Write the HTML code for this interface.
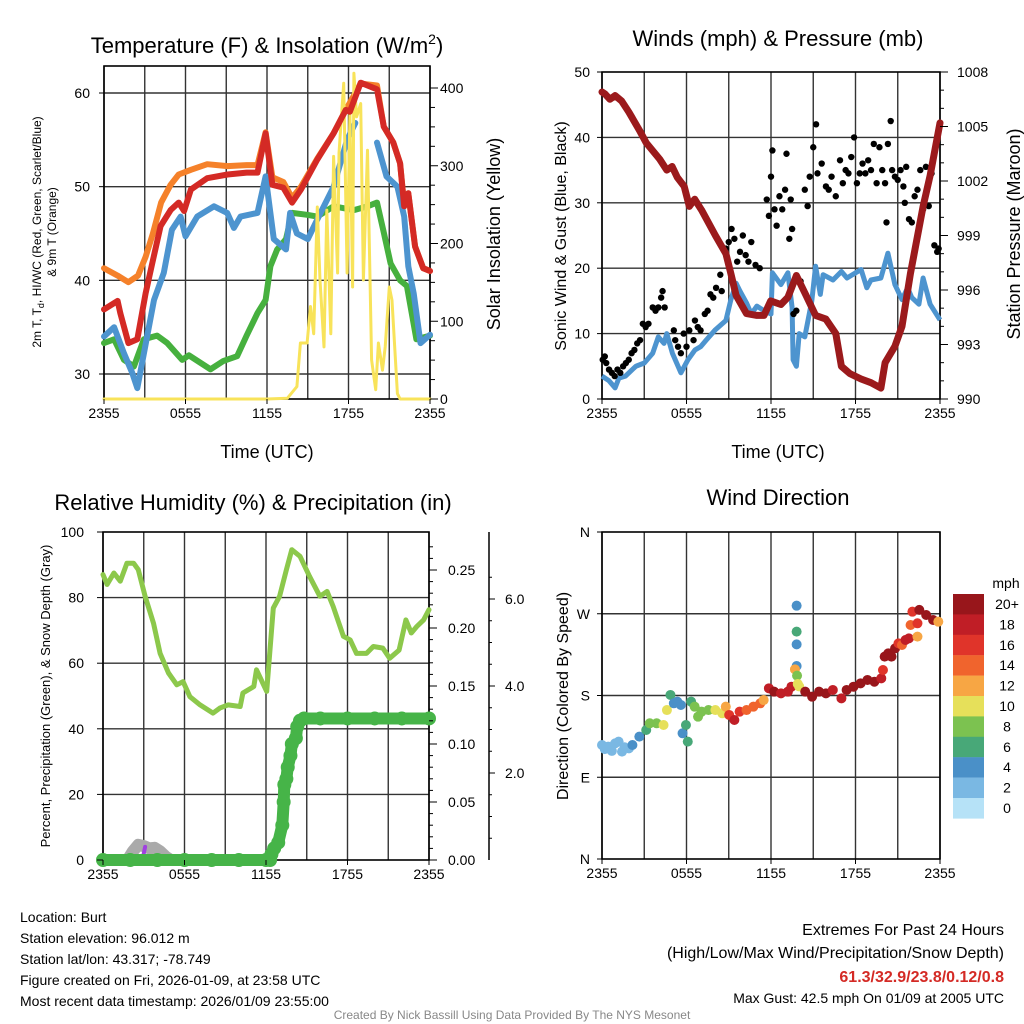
<!DOCTYPE html>
<html><head><meta charset="utf-8"><style>
html,body{margin:0;padding:0;background:#fff;}
svg{display:block;font-family:"Liberation Sans",sans-serif;}
</style></head><body>
<svg id="s" width="1024" height="1024" viewBox="0 0 1024 1024" xmlns="http://www.w3.org/2000/svg"></svg>
<script>
// ---------- DATA ----------
const xTickLabels = ["2355","0555","1155","1755","2355"];
// Panel 1 (hours, degF)
const redT_h = [0,1,1.2,1.8,2.45,3.06,3.55,4.17,4.9,5.5,5.9,6.4,7.6,9.1,10.5,11.3,11.9,12.4,13.2,13.85,14.5,15.7,16.9,17.8,18.1,18.9,20.1,20.6,21.3,21.8,22.1,22.4,22.9,23.5,24];
const redT_v = [36.9,37.8,36.5,33.3,33.7,38.6,41.8,45.8,47.5,48.3,47.4,49.7,50.9,51.3,51.5,51.5,55.7,50.2,49.9,48.3,49.7,52.9,55.7,58.2,58.0,61.1,60.4,56.4,54.7,52.5,47.9,49.3,43.6,41.3,41];
const orgT_h = [0,1,1.8,2.5,3.06,3.6,4.2,4.9,5.5,6.4,7.6,9.1,10.5,11.3,11.9,12.4,13.2,13.85,14.5,15.7,16.9,17.8,18.9,20.1,20.6,21.3,21.8,22.1,22.4,22.9,23.5,24];
const orgT_v = [41.3,40.5,39.8,40.5,42.5,45,48.3,50.2,51.3,51.8,52.4,52.2,52.3,52.3,55.8,51,50.5,48.8,50,53,55.7,58.2,61,60.8,56.4,54.7,52.5,48,49.3,43.6,41.3,41];
const bluT_h = [0,0.74,1.47,2.08,2.45,2.94,3.68,4.4,5.0,5.64,6.0,6.86,8.1,9.07,9.56,10.05,11.3,11.9,12.5,13.4,13.7,14.2,15.0,15.7,16.9,17.9,18.5,null,20.1,20.8,21.6,22.1,22.4,22.8,23.3,24];
const bluT_v = [34,35,32.2,30.1,28.5,32.2,37.9,40.8,45.4,46.8,44.7,46.8,47.9,47.2,45.6,46.8,47.2,51.1,44.4,43.3,47.2,45,44.4,46.5,50,55,56.8,null,54.7,51.1,50,46.8,41.5,38.6,33.3,34.2];
const grnT_h = [0,0.74,1.47,2.2,2.94,3.9,4.66,5.76,6.25,7.84,8.8,9.8,10.5,11.3,11.9,12.25,12.75,13.4,13.85,14.95,15.7,16.9,18.4,19.4,20.1,20.6,21.1,21.8,22.3,23.0,24];
const grnT_v = [33.3,33.7,31.5,30.8,33.7,34.1,33.3,31.5,32.0,30.5,31.4,31.9,34.1,36.5,37.9,41.5,43.3,44.4,47.2,47.0,46.8,47.9,47.5,47.9,48.3,45.1,41.8,40,39.4,33.7,34.1];
const sol_h = [0,12.0,13.5,14.2,14.46,14.95,15.2,15.44,15.7,15.9,16.2,16.4,16.7,16.9,17.2,17.3,17.65,17.9,18.1,18.3,18.4,18.6,18.9,19.1,19.4,19.7,20.0,20.2,20.5,20.7,21.0,21.2,21.6,21.8,24];
const sol_v = [0,0,1,16,72,72,119,84,247,153,67,243,84,312,162,316,406,162,367,144,419,363,380,153,320,50,12,72,37,67,144,127,7,0,0];
// Panel 2
const pres_h = [0,0.2,0.56,0.93,1.4,1.9,2.65,3.14,4.1,4.6,4.98,5.35,5.84,6.2,6.58,7.07,8.05,8.8,9.15,9.52,10.26,11.0,11.5,11.98,12.7,13.2,13.8,14.43,15.17,15.9,16.6,17.0,17.6,18.4,19.1,19.8,20.1,20.8,21.3,21.9,22.8,23.3,24];
const pres_v = [1006.9,1006.8,1006.5,1006.7,1006.4,1005.8,1004.8,1004.1,1003.2,1002.6,1002.8,1002.2,1001.7,1000.6,1001,1000.4,999,998,996.9,995.7,994.7,994.6,994.6,995.4,995.2,995.6,996.8,995.8,994.6,994.4,993.6,991.8,991.4,991.1,990.9,990.6,992,992.9,994,996.9,1000.6,1002.3,1005.2];
const wind_h = [0,0.5,0.93,1.2,1.67,2.4,3.0,3.6,4.0,4.4,4.6,5.0,5.6,6.1,6.6,7.0,7.4,8.05,8.8,9.15,9.52,9.8,10.26,10.6,11.0,11.5,12.0,12.1,12.7,13.2,13.5,13.57,13.8,14.0,14.4,14.9,15.17,15.5,15.7,16.4,17.0,17.4,18.4,18.8,19.1,19.8,20.3,20.8,21.3,21.7,22.0,22.5,22.8,23.3,24];
const wind_v = [3.5,2.8,1.7,3.2,3.5,5,5.5,7,9.5,8.5,10,7,4,6,7.5,8,9,10.6,12,15.2,17.7,16.5,14.7,13,14.2,13.5,13,19.3,17.5,19.3,14,6,5,10,9.5,15,20.3,16,19,18.2,19.5,18.5,19.8,17,18.2,18.5,22.3,17.5,15.2,17,15.5,14.5,18.5,14.5,12.1];
const gust_h = [0.05,0.2,0.3,0.5,0.7,0.9,1.1,1.3,1.5,1.7,1.9,2.1,2.3,2.5,2.7,2.9,3.1,3.3,3.6,3.8,4.0,4.2,4.3,4.45,5.1,5.2,5.4,5.6,5.8,6.0,6.2,6.5,6.6,6.8,7.0,7.3,7.5,7.7,7.9,8.1,8.4,8.5,8.8,9.0,9.2,9.4,9.6,9.8,10.0,10.2,10.4,10.6,10.9,11.2,11.7,11.85,12.0,12.1,12.25,12.4,12.6,12.8,13.0,13.1,13.3,13.4,13.5,13.6,13.8,14.1,14.4,14.6,14.75,15.0,15.2,15.3,15.6,15.9,16.1,16.3,16.6,16.9,17.1,17.3,17.5,17.7,17.9,18.1,18.3,18.5,18.7,18.9,19.1,19.3,19.5,19.7,19.9,20.1,20.2,20.3,20.5,20.6,20.8,21.0,21.2,21.4,21.5,21.6,21.8,22.0,22.2,22.4,22.6,22.8,23.0,23.2,23.4,23.6,23.8,23.9];
const gust_v = [6,6.5,5.5,4.5,4,3.5,4.5,4,5,5.5,6,7,7.5,8.5,9,11.5,11,11.5,14,13.5,14,15.5,16.5,14,10.5,9,8,7,10,8,10.5,9,12,11,10.5,13,13.5,16,15.5,17,19,16.5,23,24,26,24.5,21,22.5,25,22,21,24,20.5,20,30.5,28,34,38,29,26.5,31,29,32,37.5,24.5,30.5,26,13,13.5,18,32,29.5,34,38.5,42,34.5,36,32.5,32,34,31,36.5,33,35,34.5,37,40,33,34.5,36,34.5,36.5,35,39,33,38.5,35,33,27,39,42.5,35,34,33.5,35,32.5,30,35.5,27.5,27,31,32,35,29,35.5,29.5,34.5,23.5,22.5,23];
// Panel 3
const rh_h = [0,0.3,0.8,1.27,1.76,2.25,2.6,3.1,3.72,4.2,4.82,5.43,5.9,6.4,7.15,8.1,8.6,9.2,10.1,10.3,11.1,11.3,12.05,12.54,13.0,13.5,13.9,14.5,15.2,15.97,16.5,16.95,17.7,18.2,18.66,19.4,19.9,20.6,21.1,21.8,22.3,22.7,23.1,23.6,24];
const rh_v = [87,84,87.5,85,90.5,90.5,88.5,80.4,72.2,63,57,53.4,54.4,49.8,47.3,44.8,46.3,47.3,46.8,50.9,52.9,58,51.4,76.8,80.4,88.5,94.6,92.6,86.5,80.4,81.9,77.3,68.2,67.1,63,63,65.1,64.6,61.5,64,73.2,69.2,71.2,73.2,76.3];
const pcp_h = [0,2,4,6,8,10,12,12.3,12.4,12.6,12.9,13.2,13.3,13.35,13.5,13.6,13.8,13.9,14.2,14.3,14.5,14.8,16,18,20,22,24];
const pcp_v = [0,0,0,0,0,0,0,0,0.005,0.01,0.015,0.03,0.05,0.065,0.07,0.08,0.09,0.1,0.105,0.115,0.12,0.122,0.122,0.122,0.122,0.122,0.122];
const snow_h = [1.8,2.2,2.6,3.0,3.4,3.8,4.2,4.6,5.0];
const snow_v = [0,0.2,0.35,0.32,0.27,0.28,0.2,0.08,0];
// Panel 4
const dir_h = [0,0.44,0.93,1.18,1.42,1.91,0.2,0.7,1.6,2.16,2.65,3.14,3.39,3.88,4.37,4.61,4.86,5.1,5.35,5.6,5.72,5.96,6.09,6.33,6.58,6.82,7.07,7.56,8.05,8.54,8.79,9.03,9.4,9.77,10.26,10.75,11.24,11.48,11.85,12.22,12.71,13.2,13.45,13.82,13.82,13.82,13.82,13.7,13.85,13.9,14.0,14.43,14.92,15.41,15.9,16.39,17.0,17.37,17.86,18.36,18.85,19.34,19.83,19.95,20.07,20.32,20.56,20.81,21.05,21.3,21.55,21.79,21.91,22.4,22.4,22.04,22.53,23.02,23.51,23.88];
const dir_v = [125.5,123.7,127.3,129.2,118.2,121.8,121,119,123,125.5,134.7,142,149.4,149.4,147.5,164,180.6,171.4,173.2,169.6,138.4,147.5,129.2,173.2,167.7,156.7,162.2,164,164,160.4,167.7,158.6,153,162.2,164,167.7,171.4,175,187.9,184.2,182.4,184.2,189.7,278.9,250.3,236.3,212.5,208.8,201.9,192.7,190,184.2,178.7,184.2,182.4,186.1,176.9,186.1,189.7,193.4,197.1,195.2,198.9,208.1,222.8,226.4,222.8,231.9,237.4,235.6,241.1,242.9,257.6,244.8,259.5,272.3,274.2,268.6,263.1,261.3];
const dir_s = [2,2,2,2,2,2,2,2,2,4,4,6,8,8,10,10,6,4,4,4,4,6,6,6,8,8,8,8,10,10,12,16,18,16,14,14,14,12,18,20,18,18,18,4,6,4,4,12,8,10,10,20,20,20,20,18,18,20,20,20,20,20,18,16,20,20,20,20,16,14,18,18,14,12,16,16,20,20,20,12];
const speedLabels = ["20+","18","16","14","12","10","8","6","4","2","0"];
const speedColors = ["#b6e2f7","#7ab8e3","#4a90c8","#48a878","#7cc250","#e6e05a","#f7a644","#f0642d","#e0342a","#c01e26","#98161b"];

// ---------- DRAW ----------
const NS="http://www.w3.org/2000/svg";
const S=document.getElementById('s');
function el(tag,attrs,parent){const e=document.createElementNS(NS,tag);for(const k in attrs)e.setAttribute(k,attrs[k]);(parent||S).appendChild(e);return e;}
function txt(x,y,s,size,anchor,parent,extra){const t=el('text',Object.assign({x:x,y:y,'font-size':size,'text-anchor':anchor||'start',fill:'#000'},extra||{}),parent);t.textContent=s;return t;}
function lin(a,b,c,d){return v=>c+(v-a)*(d-c)/(b-a);}
function pathOf(hs,vs,X,Y){let d='',pen=false;for(let i=0;i<hs.length;i++){if(hs[i]===null){pen=false;continue;}d+=(pen?'L':'M')+X(hs[i]).toFixed(1)+','+Y(vs[i]).toFixed(1);pen=true;}return d;}
function frame(g,x0,x1,y0,y1,vgrid,hgrid){
  const gg=el('g',{},g);
  vgrid.forEach(x=>el('line',{x1:x,x2:x,y1:y0,y2:y1,stroke:'#333','stroke-width':1.4},gg));
  hgrid.forEach(y=>el('line',{x1:x0,x2:x1,y1:y,y2:y,stroke:'#333','stroke-width':1.4},gg));
  const b=el('rect',{x:x0,y:y0,width:x1-x0,height:y1-y0,fill:'none',stroke:'#000','stroke-width':1.6},g);
  
}
function xticks(g,x0,x1,y1){const X=lin(0,24,x0,x1);xTickLabels.forEach((s,i)=>{const x=X(i*6);el('line',{x1:x,x2:x,y1:y1,y2:y1+5,stroke:'#000'},g);const t=txt(x,y1+19,s,14,'middle',g);});}

// Panel 1
{const g=el('g',{});
const x0=104,x1=430,y0=66,y1=399;const X=lin(0,24,x0,x1),Y=lin(30,60,374,93),YS=lin(0,400,399,88);
frame(g,x0,x1,y0,y1,[0,3,6,9,12,15,18,21,24].map(X),[30,40,50,60].map(Y));
const ser=[[sol_h,sol_v,'#f8e35a',YS,'solar-insolation-line',3],[orgT_h,orgT_v,'#f5812a',Y,'9m-temperature-line',6],[grnT_h,grnT_v,'#46b03e',Y,'dewpoint-line',6],[bluT_h,bluT_v,'#4d94cf',Y,'heat-index-windchill-line',6],[redT_h,redT_v,'#d42a25',Y,'2m-temperature-line',6]];
[1,2,3,0,4].forEach(i=>{const s=ser[i];const p=el('path',{d:pathOf(s[0],s[1],X,s[3]),fill:'none',stroke:s[2],'stroke-width':s[5],'stroke-linejoin':'round','stroke-linecap':'round'},g);});
[30,40,50,60].forEach(v=>{const t=txt(90,Y(v)+5,String(v),14,'end',g);el('line',{x1:x0-5,x2:x0,y1:Y(v),y2:Y(v),stroke:'#000'},g);});
for(let v=0;v<=400;v+=25){el('line',{x1:x1,x2:x1+(v%100?5:8),y1:YS(v),y2:YS(v),stroke:'#000'},g);}
[0,100,200,300,400].forEach(v=>{const t=txt(440,YS(v)+5,String(v),14,'start',g);});
xticks(g,x0,x1,y1);
const tt=txt(267,53,'',22,'middle',g);tt.innerHTML='Temperature (F) &amp; Insolation (W/m<tspan dy="-9" font-size="14">2</tspan><tspan dy="9">)</tspan>';
const xl=txt(267,458,'Time (UTC)',18,'middle',g);
const yl=el('text',{transform:'translate(41,232) rotate(-90)','font-size':12,'text-anchor':'middle'},g);yl.innerHTML='2m T, T<tspan dy="3" font-size="9">d</tspan><tspan dy="-3">, HI/WC (Red, Green, Scarlet/Blue)</tspan>';
const yl2=txt(0,0,'& 9m T (Orange)',12,'middle',g,{transform:'translate(56,232) rotate(-90)'});
const yr=txt(0,0,'Solar Insolation (Yellow)',18,'middle',g,{transform:'translate(500,234) rotate(-90)'});
}
// Panel 2
{const g=el('g',{});
const x0=602,x1=940,y0=72,y1=399;const X=lin(0,24,x0,x1),Y=lin(0,50,399,72),YP=lin(990,1008,399,72);
frame(g,x0,x1,y0,y1,[0,3,6,9,12,15,18,21,24].map(X),[10,20,30,40].map(Y));
const w=el('path',{d:pathOf(wind_h,wind_v,X,Y),fill:'none',stroke:'#4d94cf','stroke-width':5,'stroke-linejoin':'round'},g);
const gg=el('g',{},g);
gust_h.forEach((h,i)=>{const c=el('circle',{cx:X(h),cy:Y(gust_v[i]),r:3.2,fill:'#000'},gg);});
const p=el('path',{d:pathOf(pres_h,pres_v,X,YP),fill:'none',stroke:'#9b1a1c','stroke-width':7,'stroke-linejoin':'round','stroke-linecap':'round'},g);
[0,10,20,30,40,50].forEach(v=>{const t=txt(590,Y(v)+5,String(v),14,'end',g);el('line',{x1:x0-5,x2:x0,y1:Y(v),y2:Y(v),stroke:'#000'},g);});
for(let v=990;v<=1008;v++){el('line',{x1:x1,x2:x1+(v%3?4:8),y1:YP(v),y2:YP(v),stroke:'#000'},g);}
[990,993,996,999,1002,1005,1008].forEach(v=>{const t=txt(957,YP(v)+5,String(v),14,'start',g);});
xticks(g,x0,x1,y1);
const tt=txt(778,46,'Winds (mph) & Pressure (mb)',22,'middle',g);
const xl=txt(778,458,'Time (UTC)',18,'middle',g);
const yl=txt(0,0,'Sonic Wind & Gust (Blue, Black)',16,'middle',g,{transform:'translate(566,236) rotate(-90)'});
const yr=txt(0,0,'Station Pressure (Maroon)',18,'middle',g,{transform:'translate(1020,234) rotate(-90)'});
}
// Panel 3
{const g=el('g',{});
const x0=103,x1=429,y0=532,y1=860;const X=lin(0,24,x0,x1),Y=lin(0,100,860,532),YP=lin(0,0.25,860,570),YN=lin(0,6,860,599);
frame(g,x0,x1,y0,y1,[0,3,6,9,12,15,18,21,24].map(X),[20,40,60,80].map(Y));
const sn=el('path',{d:pathOf(snow_h,snow_v,X,YN),fill:'none',stroke:'#aaa','stroke-width':12,'stroke-linejoin':'round','stroke-linecap':'round'},g);
const pu=el('path',{d:'M'+X(2.95)+','+(Y(1))+'L'+X(3.1)+','+Y(4),stroke:'#a040e0','stroke-width':4,'stroke-linecap':'round'},g);
const r=el('path',{d:pathOf(rh_h,rh_v,X,Y),fill:'none',stroke:'#8cc84b','stroke-width':5,'stroke-linejoin':'round','stroke-linecap':'round'},g);
const pl=el('path',{d:pathOf(pcp_h,pcp_v,X,YP),fill:'none',stroke:'#46b448','stroke-width':12,'stroke-linejoin':'round','stroke-linecap':'round'},g);
pcp_h.forEach((h,i)=>{const c=el('circle',{cx:X(h),cy:YP(pcp_v[i]),r:7,fill:'#46b448'},g);});
[0,20,40,60,80,100].forEach(v=>{const t=txt(84,Y(v)+5,String(v),14,'end',g);el('line',{x1:x0-6,x2:x0,y1:Y(v),y2:Y(v),stroke:'#000'},g);});
for(let v=0;v<=0.28;v+=0.01){const major=Math.abs(v*20-Math.round(v*20))<1e-6;el('line',{x1:x1,x2:x1+(major?8:4),y1:YP(v),y2:YP(v),stroke:'#000'},g);}
['0.00','0.05','0.10','0.15','0.20','0.25'].forEach((s,i)=>{const t=txt(448,YP(i*0.05)+5,s,14,'start',g);});
el('line',{x1:489,x2:489,y1:532,y2:860,stroke:'#000','stroke-width':1.5},g);
for(let v=0.5;v<=6.9;v+=0.5){el('line',{x1:489,x2:489+(v%2===0?6:3),y1:YN(v),y2:YN(v),stroke:'#000'},g);}
['2.0','4.0','6.0'].forEach((s,i)=>{const t=txt(505,YN((i+1)*2)+5,s,14,'start',g);});
xticks(g,x0,x1,y1);
const tt=txt(253,510,'Relative Humidity (%) & Precipitation (in)',22,'middle',g);
const yl=txt(0,0,'Percent, Precipitation (Green), & Snow Depth (Gray)',13,'middle',g,{transform:'translate(50,696) rotate(-90)'});
}
// Panel 4
{const g=el('g',{});
const x0=602,x1=940,y0=532,y1=859;const X=lin(0,24,x0,x1),Y=lin(0,360,859,532);
frame(g,x0,x1,y0,y1,[0,3,6,9,12,15,18,21,24].map(X),[90,180,270].map(Y));
dir_h.forEach((h,i)=>{const ci=Math.min(10,Math.floor(dir_s[i]/2));const c=el('circle',{cx:X(h),cy:Y(dir_v[i]),r:5,fill:speedColors[ci]},g);});
['N','E','S','W','N'].forEach((s,i)=>{const t=txt(590,Y(i*90)+5,s,14,'end',g);el('line',{x1:x0-5,x2:x0,y1:Y(i*90),y2:Y(i*90),stroke:'#000'},g);});
xticks(g,x0,x1,y1);
const tt=txt(778,505,'Wind Direction',22,'middle',g);
const yl=txt(0,0,'Direction (Colored By Speed)',16,'middle',g,{transform:'translate(568,696) rotate(-90)'});
const lg=el('g',{},g);
const u=txt(1006,588,'mph',14,'middle',lg);
speedLabels.forEach((s,i)=>{const y=594+i*20.4;el('rect',{x:953,y:y,width:31,height:20.6,fill:speedColors[10-i]},lg);const t=txt(1007,y+15,s,14,'middle',lg);});
}
// Footer text
{const g=el('g',{});
['Location: Burt','Station elevation: 96.012 m','Station lat/lon: 43.317; -78.749','Figure created on Fri, 2026-01-09, at 23:58 UTC','Most recent data timestamp: 2026/01/09 23:55:00'].forEach((s,i)=>{txt(20,922+i*21,s,14,'start',g);});
const e=el('g',{});
txt(1004,935,'Extremes For Past 24 Hours',16,'end',e);
txt(1004,958,'(High/Low/Max Wind/Precipitation/Snow Depth)',16,'end',e);
txt(1004,982,'61.3/32.9/23.8/0.12/0.8',16,'end',e,{fill:'#d42a25','font-weight':'bold'});
txt(1004,1003,'Max Gust: 42.5 mph On 01/09 at 2005 UTC',14,'end',e);
const c=txt(512,1019,'Created By Nick Bassill Using Data Provided By The NYS Mesonet',12,'middle');c.setAttribute('fill','#888');
}
</script>
</body></html>
